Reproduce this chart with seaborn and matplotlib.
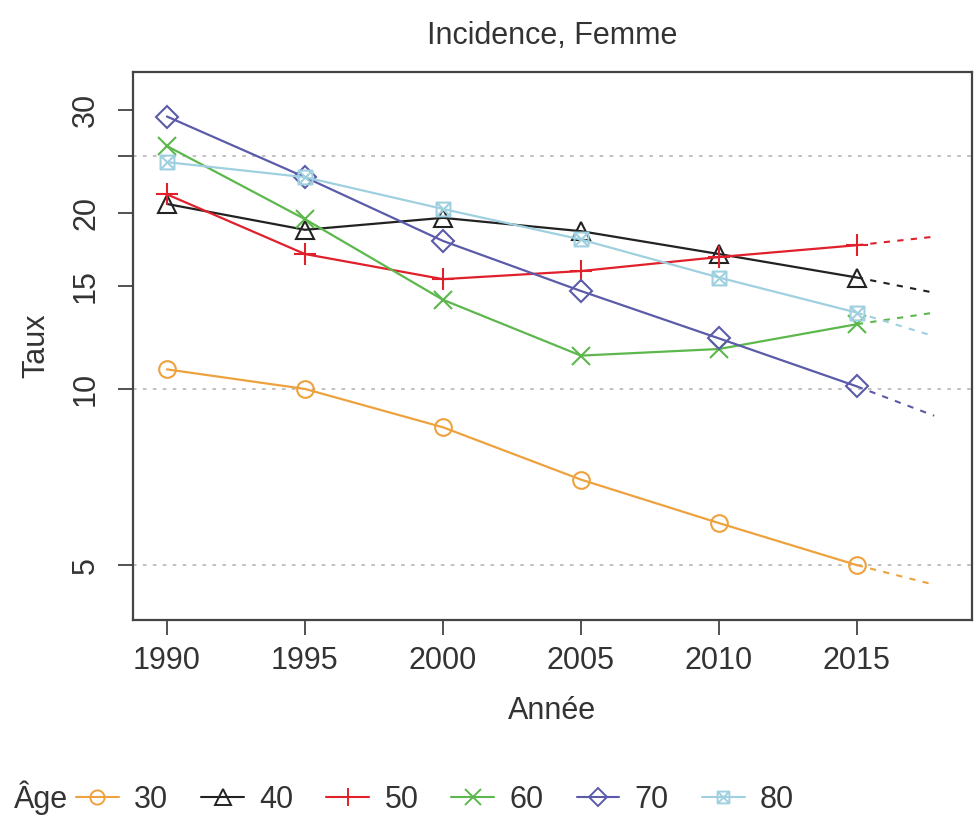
import matplotlib
matplotlib.use("Agg")
import matplotlib.pyplot as plt
import seaborn as sns
import pandas as pd
from matplotlib.path import Path
from matplotlib.lines import Line2D

# ----------------------------
# Data
# ----------------------------
years = [1990, 1995, 2000, 2005, 2010, 2015]
ages = ["30", "40", "50", "60", "70", "80"]

taux_30 = [10.8, 10.0, 8.6, 7.0, 5.9, 5.0]
taux_40 = [20.7, 18.7, 19.6, 18.6, 17.0, 15.5]
taux_50 = [21.5, 17.0, 15.4, 15.9, 16.8, 17.6]
taux_60 = [26.0, 19.5, 14.2, 11.4, 11.7, 12.9]
taux_70 = [29.2, 23.0, 17.9, 14.7, 12.2, 10.1]
taux_80 = [24.4, 23.0, 20.3, 18.0, 15.5, 13.5]

# projected end points (dashed continuation after 2015)
proj_years = [2015, 2017.8]
proj_end = [4.63, 14.6, 18.2, 13.5, 9.0, 12.3]

grid_levels = [5, 10, 25]
ytick_vals = [5, 10, 15, 20, 25, 30]
ytick_labels = ["5", "10", "15", "20", "", "30"]

# ----------------------------
# Styles
# ----------------------------
sns.set_style("white")
plt.rcParams["font.family"] = ["Liberation Sans", "DejaVu Sans"]
txt = "#333333"

# square with a cross inside (boxed x)
boxx = Path(
    [(-1, -1), (1, -1), (1, 1), (-1, 1), (-1, -1), (-1, -1), (1, 1), (-1, 1), (1, -1)],
    [Path.MOVETO, Path.LINETO, Path.LINETO, Path.LINETO, Path.CLOSEPOLY,
     Path.MOVETO, Path.LINETO, Path.MOVETO, Path.LINETO],
)

colors = ["#EEA23E", "#222222", "#E0202A", "#5CB84C", "#5B5BAA", "#9FD0E0"]
markers = ["o", "^", "+", "x", "D", boxx]
msizes = [12, 13, 16, 13, 11, 10]
series = [taux_30, taux_40, taux_50, taux_60, taux_70, taux_80]

fig = plt.figure(figsize=(9.8, 8.18), dpi=100)
ax = fig.add_axes([0.1357, 0.2421, 0.8561, 0.670])

for lvl in grid_levels:
    ax.axhline(lvl, color="#bbbbbb", lw=1.3, ls=(0, (2, 3.5)), zorder=0)

for age, vals, c, m, ms, end in zip(ages, series, colors, markers, msizes, proj_end):
    df = pd.DataFrame({"Année": years, "Taux": vals})
    sns.lineplot(data=df, x="Année", y="Taux", color=c, lw=1.6, marker=m,
                 markersize=ms, mfc="none", mec=c, mew=1.5, ax=ax, legend=False)
    proj = pd.DataFrame({"Année": proj_years, "Taux": [vals[-1], end]})
    sns.lineplot(data=proj, x="Année", y="Taux", color=c, lw=1.5,
                 ls=(0, (3, 3.5)), ax=ax, legend=False)

ax.set_yscale("log")
ax.set_ylim(4.03, 34.8)
ax.set_xlim(1988.77, 2019.17)
ax.minorticks_off()
ax.set_xticks(years)
ax.set_xticklabels([str(y) for y in years])
ax.set_yticks(ytick_vals)
ax.set_yticklabels(ytick_labels, rotation=90, va="center")
ax.tick_params(axis="both", length=11, width=1.3, color="#444444",
               labelsize=22, labelcolor=txt, pad=8, left=True, bottom=True)
ax.tick_params(axis="y", pad=12)
for s in ax.spines.values():
    s.set_color("#444444")
    s.set_linewidth(1.6)

ax.set_xlabel("Année", fontsize=22, color=txt, labelpad=14)
ax.set_ylabel("Taux", fontsize=22, color=txt, labelpad=14)
ax.set_title("Incidence, Femme", fontsize=22, color=txt, pad=20)

# legend along the bottom
handles = [Line2D([0], [0], color=c, lw=1.5, marker=m, markersize=ms * 0.85,
                  mfc="none", mec=c, mew=1.4)
           for c, m, ms in zip(colors, markers, msizes)]
fig.text(14 / 980, 1 - 808 / 818, "Âge", fontsize=22, color=txt, va="baseline", ha="left")
fig.legend(handles, ages, loc="center left", bbox_to_anchor=(76 / 980, 1 - 800 / 818),
           ncol=6, frameon=False, fontsize=22, labelcolor=txt, handlelength=1.4,
           handletextpad=0.5, columnspacing=1.08, borderpad=0, borderaxespad=0)

fig.savefig("out.png", dpi=100)
